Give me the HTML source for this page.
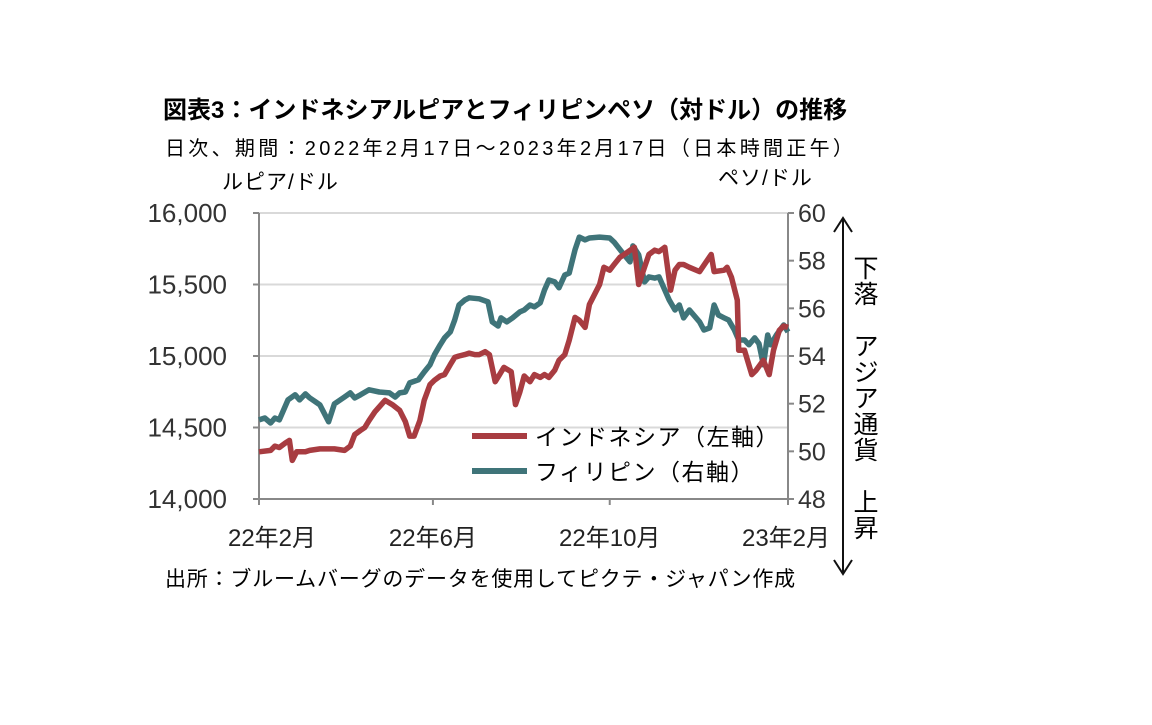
<!DOCTYPE html>
<html><head><meta charset="utf-8"><style>
body{margin:0;background:#fff;width:1152px;height:720px;overflow:hidden;font-family:"Liberation Sans","Noto Sans CJK JP",sans-serif;color:#222}
</style></head><body>
<svg id="c" width="1152" height="720" font-family="Liberation Sans, Noto Sans CJK JP, sans-serif">
<text x="163" y="118" font-size="24" font-weight="bold">図表3：インドネシアルピアとフィリピンペソ（対ドル）の推移</text>
<text x="165" y="155" font-size="20" letter-spacing="3.3">日次、期間：2022年2月17日～2023年2月17日（日本時間正午）</text>
<text x="222" y="189" font-size="21" letter-spacing="1">ルピア/ドル</text>
<text x="718" y="185" font-size="21" letter-spacing="1">ペソ/ドル</text>
<g id="grid"></g><g id="axes"></g><g id="lines"></g>
<g>
<line x1="472" y1="436" x2="527" y2="436" stroke="#a83c41" stroke-width="6"/>
<text x="535" y="445" font-size="23" letter-spacing="1.5">インドネシア（左軸）</text>
<line x1="472" y1="471" x2="527" y2="471" stroke="#3f7479" stroke-width="6"/>
<text x="535" y="480" font-size="23" letter-spacing="1.5">フィリピン（右軸）</text>
</g>
<g>
<line x1="843" y1="220" x2="843" y2="572" stroke="#111" stroke-width="2"/>
<polyline points="834,232 843,218 852,232" fill="none" stroke="#111" stroke-width="2"/>
<polyline points="834,560 843,574 852,560" fill="none" stroke="#111" stroke-width="2"/>
<text font-size="25" text-anchor="middle"><tspan x="866" y="277">下</tspan><tspan x="866" y="303">落</tspan><tspan x="866" y="355">ア</tspan><tspan x="866" y="381">ジ</tspan><tspan x="866" y="407">ア</tspan><tspan x="866" y="433">通</tspan><tspan x="866" y="459">貨</tspan><tspan x="866" y="511">上</tspan><tspan x="866" y="537">昇</tspan></text>
</g>
<text x="165" y="586" font-size="21" letter-spacing="0.8">出所：ブルームバーグのデータを使用してピクテ・ジャパン作成</text>
</svg>
<script>
const leftTicks=[14000,14500,15000,15500,16000];
const leftTickLabels=["14,000","14,500","15,000","15,500","16,000"];
const rightTicks=[48,50,52,54,56,58,60];
const xTickDays=[0,120,242,365];
const xTickLabels=["22年2月","22年6月","22年10月","23年2月"];
const idrDays=[0,8,11,14,18,21,23,26,32,35,42,52,59,63,66,70,73,76,80,87,92,97,101,104,107,111,114,118,121,125,128,132,135,138,142,145,149,152,156,159,163,166,169,174,177,180,183,187,190,194,197,200,204,207,211,214,218,221,225,228,235,238,242,245,249,252,259,262,266,269,273,276,280,284,287,290,293,297,304,312,314,321,323,326,330,331,335,340,343,348,352,355,359,362,365];
const idrValues=[14330,14340,14370,14360,14390,14410,14270,14330,14330,14340,14350,14350,14340,14370,14450,14480,14500,14550,14610,14690,14660,14620,14540,14440,14440,14550,14690,14800,14830,14860,14870,14940,14990,15000,15010,15020,15010,15010,15030,15010,14820,14870,14920,14890,14660,14750,14860,14820,14870,14850,14870,14850,14900,14970,15010,15110,15270,15250,15200,15360,15500,15620,15600,15640,15690,15710,15760,15500,15620,15710,15740,15730,15760,15460,15600,15640,15640,15620,15590,15710,15590,15600,15620,15550,15390,15040,15040,14870,14900,14970,14870,15040,15180,15210,15200];
const phpDays=[0,4,8,11,14,20,25,28,32,35,39,42,48,52,59,63,66,70,76,83,90,94,97,101,104,110,114,118,121,125,128,132,135,138,142,145,152,158,161,165,167,171,175,180,183,187,190,194,197,200,204,207,211,214,218,221,225,228,235,242,245,252,256,258,262,266,269,273,276,280,283,287,290,293,297,304,307,311,314,317,321,324,328,331,335,338,342,345,348,351,353,357,362,365];
const phpValues=[51.32,51.40,51.19,51.40,51.32,52.16,52.37,52.16,52.41,52.24,52.08,51.95,51.24,51.99,52.28,52.45,52.24,52.37,52.58,52.49,52.45,52.28,52.45,52.49,52.87,53.00,53.33,53.63,54.05,54.47,54.76,55.01,55.51,56.14,56.35,56.44,56.40,56.27,55.43,55.26,55.60,55.43,55.60,55.85,55.93,56.14,56.06,56.23,56.77,57.19,57.11,56.86,57.40,57.48,58.45,58.99,58.87,58.95,58.99,58.95,58.78,58.24,57.95,58.62,58.24,57.11,57.32,57.27,57.32,56.77,56.35,55.93,56.14,55.60,55.93,55.43,55.09,55.18,56.14,55.72,55.60,55.51,55.09,54.67,54.67,54.47,54.76,54.51,53.63,54.88,54.47,54.88,55.30,55.01];
const X0=259,X1=788,YT=213,YB=499;
const xs=d=>X0+(X1-X0)*d/365;
const yl=v=>YB-(v-14000)/2000*(YB-YT);
const yr=v=>YB-(v-48)/12*(YB-YT);
const NS="http://www.w3.org/2000/svg";
function mk(tag,attrs,parent,txt){const e=document.createElementNS(NS,tag);for(const k in attrs)e.setAttribute(k,attrs[k]);if(txt!==undefined)e.textContent=txt;parent.appendChild(e);return e;}
const grid=document.getElementById('grid'),axes=document.getElementById('axes'),lines=document.getElementById('lines');
leftTicks.forEach((v,i)=>{
  if(v>14000){const g=mk('line',{x1:X0,x2:X1,y1:yl(v),y2:yl(v),stroke:'#d9d9d9','stroke-width':2},grid);
  
  }
  mk('line',{x1:X0-6,x2:X0,y1:yl(v),y2:yl(v),stroke:'#888','stroke-width':2},axes);
  const t=mk('text',{x:227,y:yl(v)+9,'font-size':26,'text-anchor':'end',fill:'#333'},axes,leftTickLabels[i]);
  
  
});
rightTicks.forEach(v=>{
  mk('line',{x1:X1,x2:X1+6,y1:yr(v),y2:yr(v),stroke:'#888','stroke-width':2},axes);
  const t=mk('text',{x:X1+10,y:yr(v)+9,'font-size':25,fill:'#333'},axes,String(v));
  
  
});
mk('line',{x1:X0,x2:X0,y1:YT,y2:YB,stroke:'#888','stroke-width':2},axes);
mk('line',{x1:X1,x2:X1,y1:YT,y2:YB,stroke:'#888','stroke-width':2},axes);
mk('line',{x1:X0,x2:X1,y1:YB,y2:YB,stroke:'#888','stroke-width':2},axes);
xTickDays.forEach((d,i)=>{
  mk('line',{x1:xs(d),x2:xs(d),y1:YB,y2:YB+6,stroke:'#888','stroke-width':2},axes);
  const off=i===0?13:(i===3?-2:0);
  const t=mk('text',{x:xs(d)+off,y:YB+47,'font-size':24,'text-anchor':'middle',fill:'#222'},axes,xTickLabels[i]);
  
  
});
function path(days,vals,f){let n=Math.min(days.length,vals.length),s='';for(let i=0;i<n;i++)s+=(i?'L':'M')+xs(days[i]).toFixed(1)+','+f(vals[i]).toFixed(1);return s;}
const p1=mk('path',{d:path(phpDays,phpValues,yr),fill:'none',stroke:'#3f7479','stroke-width':5.5,'stroke-linejoin':'round'},lines);


const p2=mk('path',{d:path(idrDays,idrValues,yl),fill:'none',stroke:'#a83c41','stroke-width':5.5,'stroke-linejoin':'round'},lines);


</script>
</body></html>
